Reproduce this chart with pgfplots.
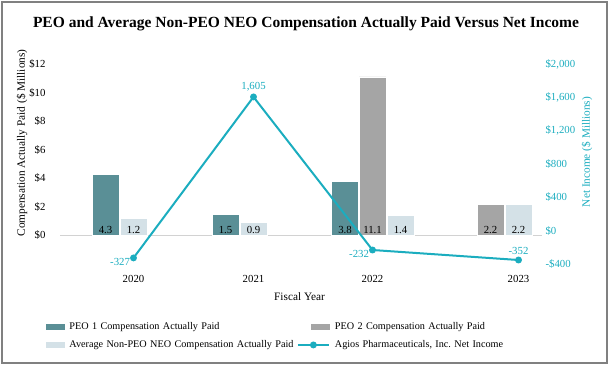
\documentclass[border=0pt]{standalone}
\usepackage{fontspec}
\setmainfont{Liberation Serif}
\usepackage{pgfplots}
\pgfplotsset{compat=1.18}
\definecolor{peoone}{RGB}{90,143,150}
\definecolor{peotwo}{RGB}{165,165,165}
\definecolor{avgc}{RGB}{212,225,231}
\definecolor{linec}{RGB}{27,173,191}
\definecolor{framec}{RGB}{128,128,128}
\definecolor{zeroc}{RGB}{210,210,210}
\begin{document}
\begin{tikzpicture}[x=1pt,y=1pt]
\path[use as bounding box] (0,0) rectangle (609,365);
\draw[framec, line width=1.2pt] (2,2) rectangle (607,363);
\node[font=\bfseries\fontsize{15.5}{18}\selectfont] at (306,341) {PEO and Average Non-PEO NEO Compensation Actually Paid Versus Net Income};
\node[font=\fontsize{11.3}{13}\selectfont] at (299.5,68) {Fiscal Year};
\node[font=\fontsize{11.3}{13}\selectfont, rotate=90] at (22,222) {Compensation Actually Paid (\$ Millions)};
\node[font=\fontsize{11.3}{13}\selectfont, rotate=90, text=linec] at (587,213) {Net Income (\$ Millions)};

\begin{axis}[
  at={(60pt,101pt)}, anchor=south west, scale only axis,
  width=482pt, height=200pt,
  xmin=60, xmax=542, ymin=-2, ymax=12,
  clip=false,
  axis x line*=bottom, axis y line*=left,
  axis line style={draw=none},
  major tick length=0pt,
  xtick={133.5,253.5,372.5,518.5},
  xticklabels={2020,2021,2022,2023},
  ytick={0,2,4,6,8,10,12},
  yticklabels={\$0,\$2,\$4,\$6,\$8,\$10,\$12},
  tick label style={font=\fontsize{10.8}{12}\selectfont},
  yticklabel style={xshift=-11pt},
  xticklabel style={yshift=-8pt},
  /pgf/number format/assume math mode=true,
]
\draw[zeroc, line width=0.8pt] (axis cs:60,0) -- (axis cs:542,0);
\addplot[ybar, bar width=27, bar shift=0pt, fill=peoone, draw=white, line width=0.6pt] coordinates {(105.5,4.3) (225.5,1.5) (345,3.8)};
\addplot[ybar, bar width=27, bar shift=0pt, fill=peotwo, draw=white, line width=0.6pt] coordinates {(372.5,11.1) (490.5,2.2)};
\addplot[ybar, bar width=27, bar shift=0pt, fill=avgc, draw=white, line width=0.6pt] coordinates {(133.5,1.2) (253.5,0.9) (400.5,1.4) (518.5,2.2)};
\addplot[draw=none, mark=none, nodes near coords, point meta=explicit symbolic,
  every node near coord/.append style={anchor=south, font=\fontsize{10.8}{12}\selectfont, text=black, inner sep=2pt}]
  coordinates {(105.5,0)[4.3] (133.5,0)[1.2] (225.5,0)[1.5] (253.5,0)[0.9] (345,0)[3.8] (372.5,0)[11.1] (400.5,0)[1.4] (490.5,0)[2.2] (518.5,0)[2.2]};
\end{axis}

\begin{axis}[
  at={(60pt,101pt)}, anchor=south west, scale only axis,
  width=482pt, height=200pt,
  xmin=60, xmax=542, ymin=-400, ymax=2000,
  clip=false,
  axis x line=none, axis y line*=right,
  axis line style={draw=none},
  major tick length=0pt,
  ytick={-400,0,400,800,1200,1600,2000},
  yticklabels={-\$400,\$0,\$400,\$800,{\$1,200},{\$1,600},{\$2,000}},
  yticklabel style={font=\fontsize{10.8}{12}\selectfont, text=linec},
  /pgf/number format/assume math mode=true,
  legend columns=2,
  legend style={at={(-0.056,-0.28)}, anchor=north west, draw=none, fill=none, inner sep=0pt,
    nodes={inner sep=1.5pt, text height=8pt, text depth=2.5pt, text width=226pt, font=\fontsize{10.2}{12}\selectfont},
    cells={anchor=west}, row sep=4.5pt,
    /tikz/every odd column/.append style={column sep=3.5pt}},
]
\addlegendimage{legend image code/.code={\path[draw=none,fill=none] (0pt,0pt) -- (31pt,0pt); \fill[peoone] (13pt,-2.6pt) rectangle (31pt,2.6pt);}}
\addlegendentry{PEO 1 Compensation Actually Paid}
\addlegendimage{legend image code/.code={\path[draw=none,fill=none] (0pt,0pt) -- (31pt,0pt); \fill[peotwo] (13pt,-2.6pt) rectangle (31pt,2.6pt);}}
\addlegendentry{PEO 2 Compensation Actually Paid}
\addlegendimage{legend image code/.code={\path[draw=none,fill=none] (0pt,0pt) -- (31pt,0pt); \fill[avgc] (13pt,-2.6pt) rectangle (31pt,2.6pt);}}
\addlegendentry{Average Non-PEO NEO Compensation Actually Paid}
\addplot[linec, line width=2pt, mark=*, mark size=2.4pt, mark options={fill=linec},
  legend image code/.code={\draw[linec, line width=2pt] (0pt,0pt) -- (31pt,0pt); \fill[linec] (15.5pt,0pt) circle (2.4pt);}]
  coordinates {(133.5,-327) (253.5,1605) (372.5,-232) (518.5,-352)};
\addlegendentry{Agios Pharmaceuticals, Inc.\ Net Income}
\addplot[draw=none, mark=none, nodes near coords, point meta=explicit symbolic, forget plot,
  every node near coord/.append style={anchor=east, yshift=-4pt, font=\fontsize{10.8}{12}\selectfont, text=linec}]
  coordinates {(133.5,-327)[-327] (372.5,-232)[-232]};
\addplot[draw=none, mark=none, nodes near coords, point meta=explicit symbolic, forget plot,
  every node near coord/.append style={anchor=south, yshift=2pt, font=\fontsize{10.8}{12}\selectfont, text=linec}]
  coordinates {(253.5,1605)[{1,605}] (518.5,-352)[-352]};
\end{axis}
\end{tikzpicture}
\end{document}
